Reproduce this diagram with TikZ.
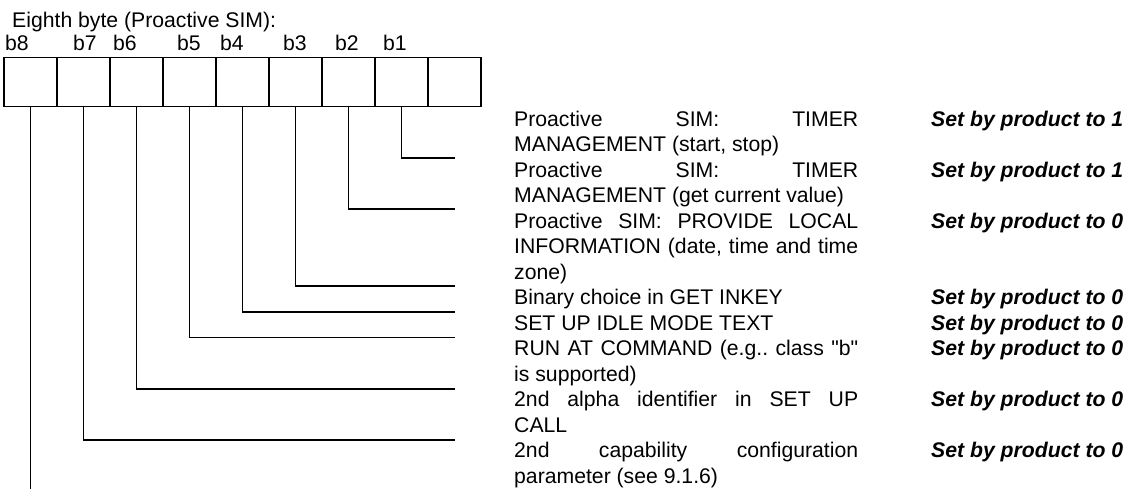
\documentclass[tikz,border=0pt]{standalone}
\usepackage{fontspec}
\setmainfont{Liberation Sans}[Ligatures=TeXOff]
\frenchspacing

\newcommand{\bodysize}{\fontsize{21.2}{25.5}\selectfont}
\newcommand{\spreadline}[1]{\makebox[\linewidth][s]{#1}\\}

\tikzset{
cell/.style={draw, line width=1.6pt, minimum width=53pt, minimum height=49pt, inner sep=0pt},
wire/.style={line width=1.6pt},
desc/.style={anchor=base west, inner sep=0pt},
flag/.style={anchor=base west, inner sep=0pt, font=\bodysize\bfseries\itshape}
}

\begin{document}
\begin{tikzpicture}[x=1pt,y=-1pt,font=\bodysize]
\useasboundingbox (0,0) rectangle (1125,489);
%heading
\node[desc] (title) at (12,27.5) {Eighth byte (Proactive SIM):};
\foreach \b/\x in {8/5,7/73,6/113,5/177,4/220,3/283,2/335,1/383}{
\node[desc] (lab\b) at (\x,51) {b\b};
}
%the byte, b8 first
\foreach \b [count=\i from 0] in {8,7,6,5,4,3,2,1}{
\node[cell] (bit\b) at (30.5+53*\i,82.2) {};
}
\node[cell] (spare) at (454.5,82.2) {};
%texts, first row of each bit
\foreach \b/\first/\v/\txt in {
1/1/1/{\spreadline{Proactive SIM: TIMER}MANAGEMENT (start, stop)},
2/3/1/{\spreadline{Proactive SIM: TIMER}MANAGEMENT (get current value)},
3/5/0/{\spreadline{Proactive SIM: PROVIDE LOCAL}\spreadline{INFORMATION (date, time and time}zone)},
4/8/0/{Binary choice in GET INKEY},
5/9/0/{SET UP IDLE MODE TEXT},
6/10/0/{\spreadline{RUN AT COMMAND (e.g.. class "b"}is supported)},
7/12/0/{\spreadline{2nd alpha identifier in SET UP}CALL},
8/14/0/{\spreadline{2nd capability configuration}parameter (see 9.1.6)}}{
\node[desc] (d\b) at (514,{100.8+25.5*\first}) {\parbox[t]{344pt}{\txt}};
\node[flag] (f\b) at (931,{100.8+25.5*\first}) {Set by product to \v};
}
%drops, last row of each bit
\foreach \b/\last in {1/2,2/4,3/7,4/8,5/9,6/11,7/13}{
\coordinate (e\b) at (455,{106.7+25.64*\last});
\draw[wire] (bit\b.south) |- (e\b);
}
\coordinate (e8) at (30.5,489);
\draw[wire] (bit8.south) -- (e8);
\end{tikzpicture}
\end{document}
